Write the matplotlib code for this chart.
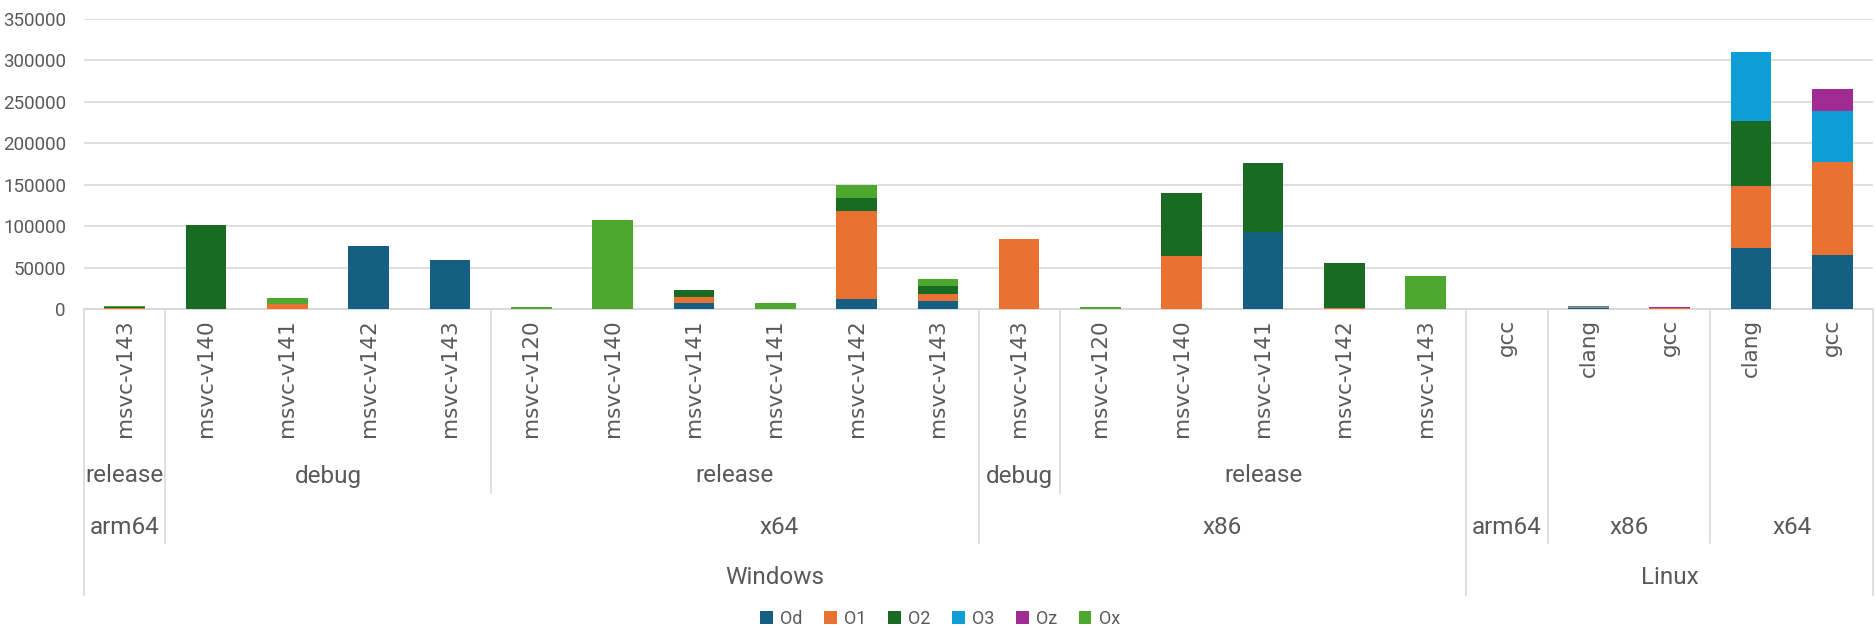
import numpy as np
import matplotlib.pyplot as plt
from matplotlib.transforms import blended_transform_factory

# compilers along the x axis (innermost level)
compilers = ["msvc-v143",
             "msvc-v140", "msvc-v141", "msvc-v142", "msvc-v143",
             "msvc-v120", "msvc-v140", "msvc-v141", "msvc-v141", "msvc-v142", "msvc-v143",
             "msvc-v143",
             "msvc-v120", "msvc-v140", "msvc-v141", "msvc-v142", "msvc-v143",
             "gcc", "clang", "gcc", "clang", "gcc"]

# stacked series values
Od = [0, 0, 0, 75500, 59100, 500, 0, 7200, 0, 12400, 9200, 0, 600, 0, 92700, 0, 0, 0, 1200, 500, 73500, 65100]
O1 = [1000, 0, 6400, 0, 0, 0, 0, 7600, 0, 106300, 8800, 84700, 0, 64300, 0, 1200, 0, 0, 800, 500, 75100, 111900]
O2 = [1500, 101500, 0, 0, 0, 0, 0, 7600, 0, 15500, 9900, 0, 0, 75100, 83900, 54300, 0, 0, 800, 0, 78700, 0]
O3 = [0, 0, 0, 0, 0, 0, 0, 0, 0, 0, 0, 0, 0, 0, 0, 0, 0, 0, 800, 0, 82700, 61900]
Oz = [0, 0, 0, 0, 0, 0, 0, 0, 0, 0, 0, 0, 0, 0, 0, 0, 0, 0, 0, 1400, 0, 26800]
Ox = [1500, 0, 7200, 0, 0, 1500, 107100, 0, 7600, 15600, 8900, 0, 1800, 0, 0, 0, 39600, 0, 0, 0, 0, 0]

series_names = ["Od", "O1", "O2", "O3", "Oz", "Ox"]
series_colors = ["#156082", "#E97132", "#196B24", "#0F9ED5", "#A02B93", "#4EA72E"]

# group labels: (label, first index, last index)
configs = [("release", 0, 0), ("debug", 1, 4), ("release", 5, 10),
           ("debug", 11, 11), ("release", 12, 16)]
archs = [("arm64", 0, 0), ("x64", 1, 10), ("x86", 11, 16),
         ("arm64", 17, 17), ("x86", 18, 19), ("x64", 20, 21)]
oses = [("Windows", 0, 16), ("Linux", 17, 21)]

W, H = 1876, 628
fig = plt.figure(figsize=(W / 100, H / 100), dpi=100)
ax = fig.add_axes([84 / W, 1 - 309 / H, (1873 - 84) / W, (309 - 19) / H])

grey = "#595959"
line_c = "#D9D9D9"
x = np.arange(len(compilers))
bottom = np.zeros(len(compilers))
handles = []
for name, vals, col in zip(series_names, [Od, O1, O2, O3, Oz, Ox], series_colors):
    vals = np.array(vals, dtype=float)
    b = ax.bar(x, vals, 0.5, bottom=bottom, color=col, label=name, zorder=3)
    handles.append(b)
    bottom += vals

ax.set_xlim(-0.5, len(compilers) - 0.5)
ax.set_ylim(0, 350000)
ax.set_yticks(np.arange(0, 350001, 50000))
ax.yaxis.grid(True, color=line_c, lw=1.2, zorder=0)
ax.set_axisbelow(True)
for s in ["top", "right", "left"]:
    ax.spines[s].set_visible(False)
ax.spines["bottom"].set_color(line_c)
ax.spines["bottom"].set_linewidth(1.5)
ax.tick_params(axis="y", length=0, labelsize=13.5, labelcolor=grey, pad=13)
ax.tick_params(axis="x", length=0)
ax.set_xticks([])
for lab in ax.get_yticklabels():
    lab.set_fontfamily("Roboto")

tr = blended_transform_factory(ax.transData, fig.transFigure)


def fy(py):
    return 1 - py / H


# compiler labels, rotated
for i, c in enumerate(compilers):
    ax.text(i, fy(319), c, transform=tr, rotation=90, ha="center", va="top",
            fontsize=15.5, color=grey, family="DejaVu Sans")

for lab, a, b in configs:
    ax.text((a + b) / 2, fy(476), lab, transform=tr, ha="center", va="center",
            fontsize=17.5, color=grey, family="Roboto")
for lab, a, b in archs:
    xc = (a + b) / 2
    if lab == "x64" and a == 1:
        xc = 8.05  # excel puts this one off centre
    ax.text(xc, fy(528), lab, transform=tr, ha="center", va="center",
            fontsize=17.5, color=grey, family="Roboto")
for lab, a, b in oses:
    ax.text((a + b) / 2, fy(578), lab, transform=tr, ha="center", va="center",
            fontsize=17.5, color=grey, family="Roboto")

# separator lines between groups
depth_cfg, depth_arch, depth_os = 493, 543, 595
bounds = {}
for lab, a, b in configs:
    bounds[b + 0.5] = max(bounds.get(b + 0.5, 0), depth_cfg)
for lab, a, b in archs:
    bounds[b + 0.5] = max(bounds.get(b + 0.5, 0), depth_arch)
for lab, a, b in oses:
    bounds[a - 0.5] = depth_os
    bounds[b + 0.5] = depth_os
for bx, d in bounds.items():
    ax.plot([bx, bx], [fy(309), fy(d)], transform=tr, color=line_c, lw=1.2,
            clip_on=False)

leg = fig.legend(handles=handles, labels=series_names, loc="center",
                 bbox_to_anchor=(940 / W, fy(619)), ncol=6, frameon=False,
                 handlelength=0.7, handleheight=0.7, handletextpad=0.4,
                 columnspacing=1.2, prop={"family": "Roboto", "size": 13})
for t in leg.get_texts():
    t.set_color(grey)

fig.savefig("out.png", dpi=100)
